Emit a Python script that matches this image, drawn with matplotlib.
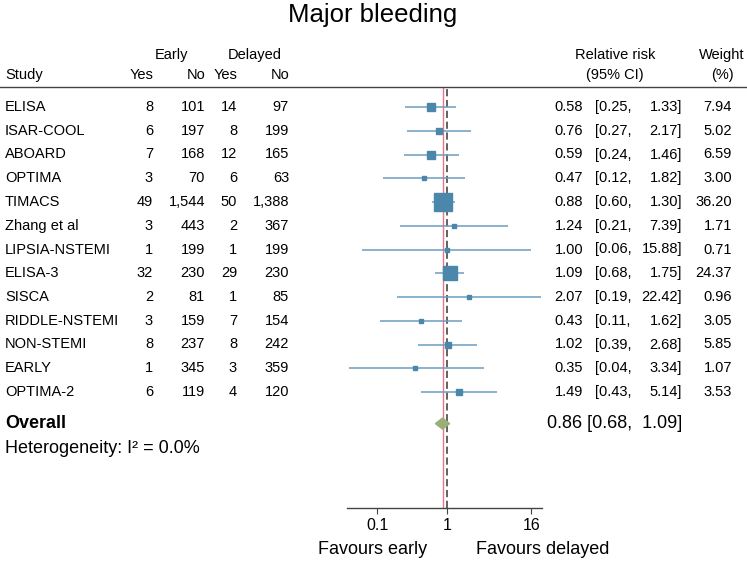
import matplotlib
matplotlib.use("Agg")
import matplotlib.pyplot as plt
import matplotlib.transforms as mtransforms
from matplotlib.lines import Line2D
from matplotlib.patches import Polygon
import numpy as np

plt.rcParams['font.family'] = ['Liberation Sans', 'DejaVu Sans']

studies = ["ELISA", "ISAR-COOL", "ABOARD", "OPTIMA", "TIMACS", "Zhang et al",
           "LIPSIA-NSTEMI", "ELISA-3", "SISCA", "RIDDLE-NSTEMI", "NON-STEMI",
           "EARLY", "OPTIMA-2"]
early_yes = [8, 6, 7, 3, 49, 3, 1, 32, 2, 3, 8, 1, 6]
early_no = [101, 197, 168, 70, 1544, 443, 199, 230, 81, 159, 237, 345, 119]
delayed_yes = [14, 8, 12, 6, 50, 2, 1, 29, 1, 7, 8, 3, 4]
delayed_no = [97, 199, 165, 63, 1388, 367, 199, 230, 85, 154, 242, 359, 120]
rr = [0.58, 0.76, 0.59, 0.47, 0.88, 1.24, 1.00, 1.09, 2.07, 0.43, 1.02, 0.35, 1.49]
rr_lo = [0.25, 0.27, 0.24, 0.12, 0.60, 0.21, 0.06, 0.68, 0.19, 0.11, 0.39, 0.04, 0.43]
rr_hi = [1.33, 2.17, 1.46, 1.82, 1.30, 7.39, 15.88, 1.75, 22.42, 1.62, 2.68, 3.34, 5.14]
weight = [7.94, 5.02, 6.59, 3.00, 36.20, 1.71, 0.71, 24.37, 0.96, 3.05, 5.85, 1.07, 3.53]
overall = (0.86, 0.68, 1.09)
i2 = 0.0
xticks = [0.1, 1, 16]

W, H = 747, 563
fig = plt.figure(figsize=(W / 100, H / 100), dpi=100)

# forest axes placed in pixel coords
ax_left, ax_right, ax_top, ax_bot = 347, 542, 87, 508
ax = fig.add_axes([ax_left / W, 1 - ax_bot / H, (ax_right - ax_left) / W, (ax_bot - ax_top) / H])
ax.set_xscale('log')
ax.set_xlim(0.037, 22.8)
row0, step = 107, 23.75
ax.set_ylim((ax_bot - row0) / step, (ax_top - row0) / step)

rows = np.arange(len(studies))
line_c = '#6b9dc0'
box_c = '#4a87aa'
ax.hlines(rows, rr_lo, rr_hi, color=line_c, lw=1.1, zorder=2)
for y, est, w in zip(rows, rr, weight):
    ax.plot(est, y, marker='s', ms=max(2.05 * np.sqrt(w), 2.6), color=box_c, mec=box_c, zorder=3)

ov_row = len(studies) + 0.33
est, lo, hi = overall
ax.add_patch(Polygon([[lo, ov_row], [est, ov_row - 0.23], [hi, ov_row], [est, ov_row + 0.23]],
                     closed=True, fc='#9bae78', ec='#9bae78', zorder=3))

ax.axvline(est, color='#e8768a', lw=1.0, zorder=1)
ax.axvline(1, color='#555555', lw=1.3, dashes=(4, 2), zorder=1)

for s in ['left', 'right', 'top']:
    ax.spines[s].set_visible(False)
ax.spines['bottom'].set_color('#444444')
ax.spines['bottom'].set_linewidth(1.0)
ax.set_yticks([])
ax.set_xticks(xticks)
ax.set_xticklabels([f"{t:g}" for t in xticks], fontsize=11.5)
ax.xaxis.set_minor_locator(matplotlib.ticker.NullLocator())
ax.tick_params(axis='x', length=4, color='#444444', pad=3)

# text columns: x in figure fraction, y in row units
tr = mtransforms.blended_transform_factory(fig.transFigure, ax.transData)
fs = 10.5
def px(x):
    return x / W

for y, name, ey, en, dy, dn, r, l, h, w in zip(rows, studies, early_yes, early_no, delayed_yes,
                                               delayed_no, rr, rr_lo, rr_hi, weight):
    ax.text(px(5), y, name, transform=tr, ha='left', va='center', fontsize=fs)
    ax.text(px(153), y, f"{ey:,}", transform=tr, ha='right', va='center', fontsize=fs)
    ax.text(px(205), y, f"{en:,}", transform=tr, ha='right', va='center', fontsize=fs)
    ax.text(px(237), y, f"{dy:,}", transform=tr, ha='right', va='center', fontsize=fs)
    ax.text(px(289), y, f"{dn:,}", transform=tr, ha='right', va='center', fontsize=fs)
    ax.text(px(583), y, f"{r:.2f}", transform=tr, ha='right', va='center', fontsize=fs)
    ax.text(px(595), y, f"[{l:.2f},", transform=tr, ha='left', va='center', fontsize=fs)
    ax.text(px(682), y, f"{h:.2f}]", transform=tr, ha='right', va='center', fontsize=fs)
    ax.text(px(732), y, f"{w:.2f}", transform=tr, ha='right', va='center', fontsize=fs)

ax.text(px(5), ov_row, "Overall", transform=tr, ha='left', va='center', fontsize=13, fontweight='bold')
ax.text(px(682), ov_row, f"{est:.2f} [{lo:.2f},  {hi:.2f}]", transform=tr, ha='right', va='center', fontsize=13)
ax.text(px(5), ov_row + 1.05, f"Heterogeneity: I\u00b2 = {i2:.1f}%", transform=tr,
        ha='left', va='center', fontsize=13)

# headers (figure pixel coords)
def ftext(x, y, s, **kw):
    fig.text(x / W, 1 - y / H, s, va='center', **kw)

ftext(373, 15, "Major bleeding", ha='center', fontsize=18.5)
ftext(172, 55, "Early", ha='center', fontsize=fs)
ftext(255, 55, "Delayed", ha='center', fontsize=fs)
ftext(5, 75, "Study", ha='left', fontsize=fs)
ftext(153, 75, "Yes", ha='right', fontsize=fs)
ftext(205, 75, "No", ha='right', fontsize=fs)
ftext(237, 75, "Yes", ha='right', fontsize=fs)
ftext(289, 75, "No", ha='right', fontsize=fs)
ftext(615, 55, "Relative risk", ha='center', fontsize=fs)
ftext(615, 75, "(95% CI)", ha='center', fontsize=fs)
ftext(722, 55, "Weight", ha='center', fontsize=fs)
ftext(722, 75, "(%)", ha='center', fontsize=fs)
ftext(373, 549, "Favours early", ha='center', fontsize=13)
ftext(543, 549, "Favours delayed", ha='center', fontsize=13)

fig.add_artist(Line2D([0, 1], [1 - 87 / H, 1 - 87 / H], transform=fig.transFigure,
                      color='#444444', lw=1.0))

fig.savefig("out.png", dpi=100)
